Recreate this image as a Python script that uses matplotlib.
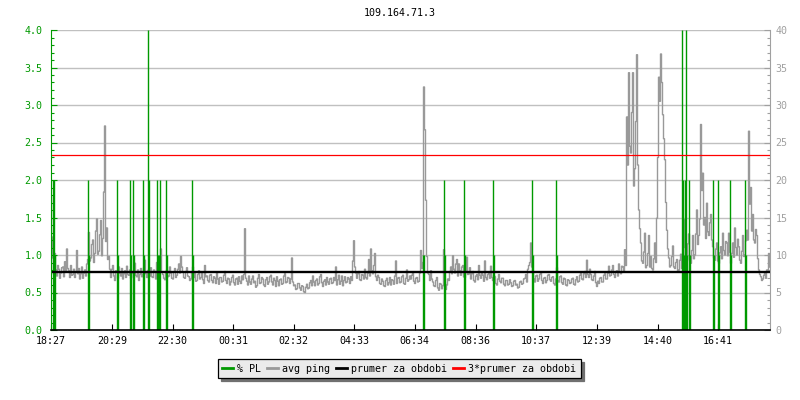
import numpy as np
import matplotlib
matplotlib.use("Agg")
import matplotlib.pyplot as plt
from matplotlib.ticker import MultipleLocator, FormatStrFormatter
from matplotlib.lines import Line2D
from matplotlib import transforms

plt.rcParams['font.family'] = ['DejaVu Sans Mono']
plt.rcParams['font.size'] = 7.2

title = "109.164.71.3"
# x axis = minutes since 18:27
tick_min = [0, 122, 243, 364, 485, 606, 727, 849, 970, 1092, 1213, 1334]
tick_lab = ["18:27", "20:29", "22:30", "00:31", "02:32", "04:33",
            "06:34", "08:36", "10:37", "12:39", "14:40", "16:41"]
x_end = 1438
step_min = 2  # one ping sample every 2 minutes

# avg ping (ms), right axis
ping_ms = [
    17.8, 12.4, 9.6, 7.4, 10.2, 8.0, 7.2, 8.6, 8.1, 6.9, 7.6, 8.3, 8.4, 7.1, 9.1, 7.7, 10.8, 8.2, 7.9, 7.0,
    8.6, 7.3, 7.4, 8.1, 7.0, 7.8, 10.6, 7.5, 8.2, 6.8, 7.5, 8.4, 6.9, 7.6, 8.0, 7.2, 8.8, 9.4, 13.0, 9.2,
    9.6, 11.4, 12.0, 9.0, 10.2, 13.2, 14.8, 10.1, 10.5, 12.7, 14.6, 9.9, 12.2, 18.4, 27.2, 11.8, 13.6, 9.4, 9.8, 8.1,
    7.0, 8.1, 8.6, 7.2, 6.6, 7.9, 7.8, 6.9, 8.4, 7.6, 7.2, 8.2, 6.8, 7.5, 7.9, 7.0, 8.5, 7.4, 7.3, 8.0,
    6.9, 7.8, 7.6, 7.0, 8.9, 7.3, 7.1, 8.0, 6.6, 7.4, 8.2, 7.1, 7.4, 8.3, 9.3, 7.5, 7.0, 7.9, 8.1, 7.2,
    8.3, 7.1, 7.0, 8.0, 7.8, 6.8, 9.0, 7.5, 6.6, 8.2, 10.8, 7.7, 7.4, 6.9, 6.7, 7.8, 8.0, 7.1, 7.2, 8.4,
    7.6, 6.9, 6.8, 7.7, 8.2, 7.0, 7.3, 8.1, 8.8, 7.6, 9.8, 8.4, 7.7, 7.0, 6.9, 7.8, 8.3, 7.2, 7.1, 6.6,
    6.8, 7.6, 8.4, 7.0, 7.5, 6.5, 6.6, 7.4, 7.9, 6.8, 7.0, 7.7, 6.7, 6.2, 8.6, 7.1, 7.2, 6.6, 6.4, 7.3,
    7.4, 6.6, 6.3, 7.1, 6.9, 6.2, 7.7, 6.8, 6.1, 7.0, 7.0, 6.4, 6.5, 7.3, 7.8, 6.6, 6.2, 6.9, 6.8, 6.0,
    6.4, 7.0, 7.3, 6.3, 6.0, 6.8, 6.9, 6.1, 7.1, 6.5, 6.2, 7.2, 6.7, 7.4, 13.5, 6.9, 6.5, 6.0, 7.2, 6.4,
    6.1, 6.8, 7.2, 6.3, 6.5, 5.7, 5.9, 6.9, 7.4, 6.2, 6.3, 7.0, 6.8, 6.0, 5.8, 6.7, 7.0, 6.1, 6.4, 7.1,
    7.3, 6.4, 6.0, 6.9, 6.6, 5.8, 7.1, 6.5, 5.9, 6.7, 6.8, 6.1, 6.2, 7.2, 7.5, 6.3, 6.4, 7.0, 6.9, 6.2,
    6.8, 9.6, 6.4, 5.9, 6.0, 5.4, 5.5, 6.2, 6.2, 5.6, 5.3, 5.9, 5.8, 5.1, 5.0, 5.7, 6.1, 5.5, 5.6, 6.3,
    6.6, 5.9, 7.2, 6.4, 5.9, 6.6, 6.8, 6.0, 6.2, 7.1, 7.4, 6.3, 5.8, 6.5, 6.7, 6.0, 7.0, 6.4, 6.1, 6.8,
    6.9, 6.2, 6.3, 7.0, 6.6, 8.4, 6.0, 6.7, 7.3, 6.1, 6.5, 7.2, 5.9, 6.6, 7.1, 6.3, 6.4, 7.0, 6.8, 6.2,
    7.1, 6.6, 9.2, 11.9, 8.4, 7.6, 6.9, 7.5, 7.8, 6.7, 6.6, 7.4, 7.3, 6.8, 8.1, 7.0, 6.8, 7.6, 9.4, 7.2,
    10.8, 7.9, 7.5, 8.6, 10.2, 7.1, 6.6, 7.3, 7.0, 6.2, 6.1, 6.8, 6.5, 5.9, 5.8, 6.6, 6.9, 6.0, 6.3, 7.0,
    6.0, 6.7, 6.6, 6.1, 7.2, 9.2, 6.2, 6.9, 7.0, 6.3, 6.4, 7.1, 7.3, 6.2, 6.1, 6.9, 8.0, 6.5, 6.7, 7.2,
    6.8, 7.3, 7.6, 6.5, 6.2, 6.9, 7.0, 6.4, 6.5, 7.6, 10.6, 8.2, 9.0, 32.4, 26.7, 17.3, 9.8, 7.6, 7.4, 6.6,
    7.9, 6.8, 6.4, 5.9, 5.8, 6.6, 7.0, 5.6, 5.3, 6.2, 6.1, 5.5, 5.9, 10.7, 6.3, 5.4, 6.0, 6.8, 6.6, 7.8,
    8.4, 7.5, 9.9, 8.1, 7.6, 8.8, 9.4, 7.2, 8.8, 7.9, 7.3, 8.4, 8.6, 7.1, 7.0, 7.8, 9.7, 7.4, 7.5, 8.3,
    6.8, 7.5, 7.8, 6.6, 6.4, 7.2, 7.4, 6.7, 8.6, 7.3, 6.9, 7.7, 7.3, 6.5, 9.2, 7.0, 6.7, 7.4, 7.6, 6.9,
    8.5, 7.0, 6.6, 7.3, 7.1, 6.2, 6.0, 6.8, 7.4, 6.5, 6.3, 6.9, 6.9, 6.1, 5.9, 6.6, 6.6, 6.0, 6.1, 6.7,
    6.3, 5.8, 5.9, 6.5, 6.6, 6.0, 6.1, 5.6, 5.7, 6.4, 6.5, 6.1, 6.2, 6.8, 6.9, 7.4, 6.4, 8.1, 8.6, 9.0,
    11.6, 8.4, 7.6, 6.8, 6.4, 7.2, 7.3, 6.5, 6.8, 7.4, 7.6, 6.6, 6.2, 6.9, 7.0, 6.3, 6.6, 7.3, 7.4, 6.7,
    6.5, 7.0, 7.1, 6.2, 6.0, 6.8, 8.3, 6.6, 6.4, 7.1, 7.2, 6.3, 6.1, 6.9, 6.8, 6.0, 5.9, 6.7, 6.6, 6.2,
    6.3, 6.8, 6.9, 6.1, 6.0, 6.7, 7.1, 6.4, 6.5, 7.3, 7.6, 6.8, 6.7, 7.5, 7.8, 7.0, 9.3, 7.4, 7.0, 8.1,
    7.4, 6.7, 6.6, 7.2, 7.8, 6.3, 5.8, 6.5, 6.2, 6.9, 7.0, 6.4, 6.4, 7.3, 7.5, 6.8, 6.8, 7.6, 8.5, 7.2,
    7.3, 8.0, 8.6, 7.4, 7.0, 7.8, 7.9, 7.2, 8.8, 7.7, 7.5, 8.5, 8.4, 7.9, 10.7, 8.6, 28.4, 22.0, 34.3, 24.5,
    23.6, 29.0, 34.3, 19.2, 21.5, 27.8, 36.7, 22.0, 16.0, 13.5, 11.6, 9.2, 8.9, 10.4, 12.9, 8.3, 8.6, 10.2, 12.6, 8.4,
    9.8, 8.2, 8.0, 9.5, 11.6, 9.0, 14.9, 23.0, 33.7, 30.5, 36.8, 33.0, 28.7, 25.5, 22.7, 17.0, 13.3, 10.8, 9.6, 8.4,
    8.6, 9.8, 11.2, 8.4, 8.2, 9.0, 9.4, 7.9, 8.0, 9.3, 10.1, 8.2, 8.5, 11.0, 14.7, 9.8, 9.2, 11.5, 12.8, 9.4,
    8.9, 10.6, 12.6, 9.5, 10.0, 12.8, 16.0, 11.4, 12.6, 14.8, 27.4, 18.6, 20.9, 14.0, 15.0, 12.2, 16.9, 13.1, 12.6, 14.3,
    15.4, 12.0, 11.1, 9.6, 9.3, 10.8, 11.6, 9.2, 8.9, 10.3, 11.1, 9.5, 12.9, 10.6, 10.0, 11.8, 11.6, 9.9, 12.9, 10.4,
    8.9, 10.2, 11.6, 9.7, 13.6, 11.0, 10.0, 12.1, 11.1, 9.3, 8.9, 10.5, 12.6, 9.8, 10.0, 11.9, 13.3, 12.0, 26.5, 16.8,
    19.0, 13.2, 15.4, 12.0, 11.6, 13.4, 12.6, 9.5, 8.0, 7.4, 7.1, 6.6, 6.8, 7.3, 7.6, 6.9, 8.0, 7.7, 10.2, 8.4,
]

# packet loss (%), left axis
pl_min = [4, 6, 8, 74, 76, 132, 134, 158, 160, 164, 166, 184, 186, 194, 196,
          212, 214, 216, 218, 230, 232, 282, 284, 744, 746, 786, 788,
          826, 828, 884, 886, 962, 964, 1010, 1012,
          1262, 1264, 1266, 1268, 1270, 1272, 1276, 1278,
          1324, 1326, 1334, 1336, 1358, 1360, 1388, 1390]
pl_pct = [2, 2, 1, 2, 1, 2, 1, 2, 1, 2, 1, 2, 1, 4, 2,
          2, 1, 1, 2, 2, 1, 2, 1, 1, 1, 2, 1,
          2, 1, 2, 1, 2, 1, 2, 1,
          4, 2, 1, 2, 4, 1, 2, 1,
          2, 1, 2, 1, 2, 1, 2, 1]

avg_ms = 7.8  # prumer za obdobi

green = '#009900'
gray = '#999999'

fig = plt.figure(figsize=(8, 4), dpi=100)
ax = fig.add_axes([51/800, 70/400, 719/800, 300/400])
ax2 = ax.twinx()
ax.set_zorder(ax2.get_zorder() + 1)
ax.patch.set_visible(False)

t = np.arange(len(ping_ms)) * step_min
ax2.plot(t, ping_ms, color=gray, lw=1.0, drawstyle='steps-mid')
ax2.set_ylim(0, 40)
ax2.yaxis.set_major_locator(MultipleLocator(5))
ax2.yaxis.set_minor_locator(MultipleLocator(1))
ax2.grid(axis='y', color='#c0c0c0', lw=1)
ax2.set_axisbelow(True)

ax.vlines(pl_min, 0, pl_pct, color=green, lw=1.0)
tr = transforms.blended_transform_factory(ax.transAxes, ax2.transData)
ax.plot([0, 1], [avg_ms, avg_ms], color='black', lw=1.7, transform=tr)
ax.plot([0, 1], [3 * avg_ms, 3 * avg_ms], color='red', lw=0.9, transform=tr)

ax.set_xlim(0, x_end)
ax.set_ylim(0, 4)
ax.yaxis.set_major_locator(MultipleLocator(0.5))
ax.yaxis.set_minor_locator(MultipleLocator(0.1))
ax.yaxis.set_major_formatter(FormatStrFormatter('%.1f'))
ax.set_xticks(tick_min)
ax.set_xticklabels(tick_lab)

for a in (ax, ax2):
    a.spines['top'].set_visible(False)
ax.spines['right'].set_visible(False)
ax2.spines['left'].set_visible(False)
ax2.spines['bottom'].set_visible(False)
ax.spines['left'].set_color(green)
ax2.spines['right'].set_color('#a0a0a0')
ax.spines['bottom'].set_color('black')
ax.spines['bottom'].set_linewidth(1.2)

ax.tick_params(axis='y', which='both', direction='in', colors=green,
               labelcolor=green, pad=6)
ax.tick_params(axis='y', which='major', length=4, width=0.8)
ax.tick_params(axis='y', which='minor', length=2.5, width=0.8)
ax.tick_params(axis='x', direction='in', length=4, width=0.8, pad=4)
ax2.tick_params(axis='y', which='both', direction='in', colors='#a0a0a0',
                labelcolor='#a0a0a0', pad=4)
ax2.tick_params(axis='y', which='major', length=4, width=0.8)
ax2.tick_params(axis='y', which='minor', length=2.5, width=0.8)

fig.text(0.5, 1 - 13.5/400, title, ha='center', va='center')

handles = [Line2D([], [], color=green, lw=2),
           Line2D([], [], color=gray, lw=2),
           Line2D([], [], color='black', lw=2),
           Line2D([], [], color='red', lw=2)]
labels = ["% PL", "avg ping", "prumer za obdobi", "3*prumer za obdobi"]
leg = fig.legend(handles, labels, ncol=4, loc='upper center',
                 bbox_to_anchor=(0.499, 1 - 359/400), bbox_transform=fig.transFigure,
                 frameon=True, fancybox=False, borderaxespad=0,
                 handlelength=1.1, handletextpad=0.4, columnspacing=0.6,
                 borderpad=0.45,
                 shadow={'ox': 2.2, 'oy': -2.2, 'color': '#707070', 'alpha': 1})
leg.get_frame().set_facecolor('#ebebeb')
leg.get_frame().set_edgecolor('black')
leg.get_frame().set_linewidth(0.9)
leg.get_frame().set_alpha(1)

fig.savefig("out.png", dpi=100)
